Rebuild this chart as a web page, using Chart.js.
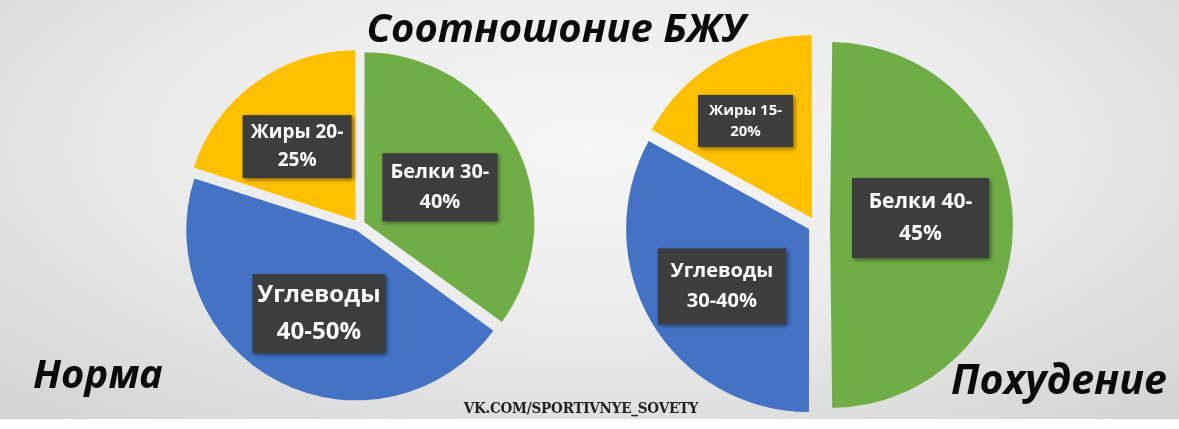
<!DOCTYPE html>
<html>
<head>
<meta charset="utf-8">
<script src="https://cdn.jsdelivr.net/npm/chart.js@4/dist/chart.umd.min.js"></script>
<style>
  html, body { margin: 0; padding: 0; }
  body { width: 1179px; height: 429px; overflow: hidden; background: #fff; position: relative; }
  #bg {
    position: absolute; left: 0; top: 0; width: 1179px; height: 419px;
    background: radial-gradient(ellipse 75% 90% at 50% 35%, #f6f6f6 0%, #ececec 45%, #d2d2d2 100%);
  }
  canvas { position: absolute; }
  #normaChart { left: 159px; top: 15px; }
  #pohudChart { left: 596px; top: 15px; }
  .txt { position: absolute; font-family: "Open Sans", "Noto Sans", sans-serif; font-weight: 700; font-style: italic; color: #0a0a0a; white-space: nowrap; z-index: 5; }
  #title { left: 0; width: 1112px; top: 1px; text-align: center; font-size: 40px; line-height: 52px; }
  #norma { left: 33px; top: 345px; font-size: 40px; line-height: 56px; }
  #pohud { left: 951px; top: 350px; font-size: 41px; line-height: 56px; }
  #vk { position: absolute; left: 455px; top: 399px; width: 252px; text-align: center; font-family: "DejaVu Serif Condensed", "Liberation Serif", serif; font-weight: 700; font-size: 15px; color: #222; z-index: 5; letter-spacing: -0.2px; }
</style>
</head>
<body>
<div id="bg"></div>
<canvas id="normaChart" width="400" height="420"></canvas>
<canvas id="pohudChart" width="440" height="420"></canvas>
<div class="txt" id="title">Соотношоние БЖУ</div>
<div class="txt" id="norma">Норма</div>
<div class="txt" id="pohud">Похудение</div>
<div id="vk">VK.COM/SPORTIVNYE_SOVETY</div>
<script>
// slices: Белки, Углеводы, Жиры (share of circle in %)
const categories = ["Белки", "Углеводы", "Жиры"];
const normaValues = [35, 45, 20];
const pohudValues = [50, 33, 17];
const normaLabels = [["Белки 30-", "40%"], ["Углеводы", "40-50%"], ["Жиры 20-", "25%"]];
const pohudLabels = [["Белки 40-", "45%"], ["Углеводы", "30-40%"], ["Жиры 15-", "20%"]];
const colors = ["#70ad47", "#4472c4", "#ffc000"];

// label box styles: [font px, line gap, box w, box h, nudge x, nudge y]
const normaBoxes = [[20, 30, 115, 68, -5, 6], [24, 37, 133, 79, 3, 4], [19, 28, 109, 63, -5, 0]];
const pohudBoxes = [[21, 32, 137, 80, -8, -7], [20, 30, 128, 76, -2, 7], [15, 21, 95, 52, -16, -12]];

// chart.js grows an exploded arc's radius; undo that so every slice keeps the set radius
const keepRadius = {
    id: "keepRadius",
    beforeDatasetsDraw(chart) {
        const r = chart.options.radius;
        chart.getDatasetMeta(0).data.forEach((arc) => {
            const off = (arc.options.offset || 0) / 4;
            const fix = 1 - Math.sin(Math.min(Math.PI, arc.circumference));
            arc.outerRadius = r - off * fix;
        });
    }
};

const boxPlugin = {
    id: "boxLabels",
    afterDatasetsDraw(chart, args, opts) {
        const ctx = chart.ctx;
        const meta = chart.getDatasetMeta(0);
        meta.data.forEach((arc, i) => {
            const pos = arc.tooltipPosition();
            const [fs, gap, w, h, nx, ny] = opts.boxes[i];
            const cx = pos.x + nx, cy = pos.y + ny;
            ctx.save();
            ctx.shadowColor = "rgba(0,0,0,0.45)";
            ctx.shadowBlur = 4;
            ctx.shadowOffsetX = 2;
            ctx.shadowOffsetY = 2;
            ctx.fillStyle = "#3d3d3d";
            ctx.fillRect(cx - w / 2, cy - h / 2, w, h);
            ctx.restore();
            ctx.save();
            ctx.fillStyle = "#ffffff";
            ctx.font = "700 " + fs + "px 'Open Sans', 'Noto Sans', sans-serif";
            ctx.textAlign = "center";
            ctx.textBaseline = "middle";
            const lines = opts.lines[i];
            lines.forEach((ln, k) => {
                ctx.fillText(ln, cx, cy + (k - (lines.length - 1) / 2) * gap);
            });
            ctx.restore();
        });
    }
};

function makePie(id, values, radius, offsets, lines, boxes) {
    return new Chart(document.getElementById(id).getContext("2d"), {
        type: "pie",
        data: {
            labels: categories,
            datasets: [
                {
                    data: values,
                    backgroundColor: colors,
                    borderWidth: 0,
                    offset: offsets,
                },
            ],
        },
        options: {
            responsive: false,
            animation: false,
            radius: radius,
            events: [],
            plugins: {
                legend: { display: false },
                tooltip: { enabled: false },
                boxLabels: { lines: lines, boxes: boxes },
            },
        },
        plugins: [keepRadius, boxPlugin],
    });
}

// offsets are in chart.js units (drawn shift = offset / 4)
makePie("normaChart", normaValues, 170, [24, 24, 24], normaLabels, normaBoxes);
makePie("pohudChart", pohudValues, 183, [56, 32, 32], pohudLabels, pohudBoxes);
</script>
</body>
</html>
